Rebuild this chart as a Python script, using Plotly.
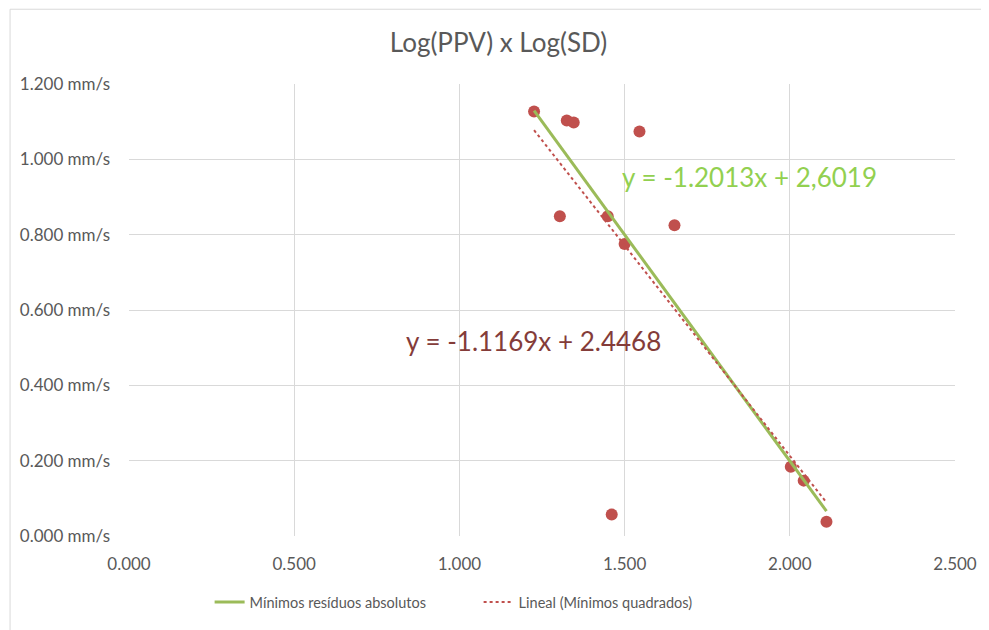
import plotly.graph_objects as go

log_sd = [1.226, 1.325, 1.346, 1.545, 1.304, 1.449, 1.500, 1.651, 1.461, 2.003, 2.042, 2.111]
log_ppv = [1.127, 1.103, 1.098, 1.074, 0.849, 0.849, 0.775, 0.825, 0.057, 0.184, 0.147, 0.038]

lad_slope, lad_icpt = -1.2013, 2.6019
ls_slope, ls_icpt = -1.1169, 2.4468

x_ticks = [0.0, 0.5, 1.0, 1.5, 2.0, 2.5]
x_ticklabels = ["0.000", "0.500", "1.000", "1.500", "2.000", "2.500"]
y_ticks = [0.0, 0.2, 0.4, 0.6, 0.8, 1.0, 1.2]
y_ticklabels = ["0.000 mm/s", "0.200 mm/s", "0.400 mm/s", "0.600 mm/s", "0.800 mm/s", "1.000 mm/s", "1.200 mm/s"]

xmin, xmax = min(log_sd), max(log_sd)
line_x = [xmin, xmax]

FONT = "Lato, 'Open Sans', sans-serif"
GREY = "#595959"

fig = go.Figure()
fig.add_trace(go.Scatter(
    x=log_sd, y=log_ppv, mode="markers",
    marker=dict(color="#C0504D", size=12),
    showlegend=False, hoverinfo="x+y"))
fig.add_trace(go.Scatter(
    x=line_x, y=[lad_slope * v + lad_icpt for v in line_x], mode="lines",
    line=dict(color="#9BBB59", width=3),
    name="Mínimos resíduos absolutos"))
fig.add_trace(go.Scatter(
    x=line_x, y=[ls_slope * v + ls_icpt for v in line_x], mode="lines",
    line=dict(color="#C0504D", width=2, dash="dot"),
    name="Lineal (Mínimos quadrados)"))

fig.add_annotation(x=1.485, y=0.952, xref="x", yref="y", text="y = -1.2013x + 2,6019",
                   showarrow=False, xanchor="left", yanchor="middle",
                   font=dict(family=FONT, size=26, color="#92D050"))
fig.add_annotation(x=0.831, y=0.518, xref="x", yref="y", text="y = -1.1169x + 2.4468",
                   showarrow=False, xanchor="left", yanchor="middle",
                   font=dict(family=FONT, size=26, color="#843C39"))

fig.add_shape(type="rect", xref="paper", yref="paper",
              x0=-0.144, x1=1.2, y0=-0.3, y1=1.1654,
              line=dict(color="#D9D9D9", width=1), fillcolor="rgba(0,0,0,0)", layer="below")

fig.update_layout(
    width=981, height=622,
    margin=dict(l=120, r=31, t=76, b=93),
    paper_bgcolor="white", plot_bgcolor="white",
    title=dict(text="Log(PPV) x Log(SD)", x=0.5, xanchor="center", y=0.944, yanchor="middle",
               font=dict(family=FONT, size=26, color=GREY)),
    font=dict(family=FONT, size=15, color=GREY),
    legend=dict(orientation="h", x=0.0976, xanchor="left", y=-0.146, yanchor="middle",
                entrywidth=224, entrywidthmode="pixels",
                font=dict(family=FONT, size=14.5, color=GREY)),
    xaxis=dict(range=[0, 2.5], tickvals=x_ticks, ticktext=x_ticklabels,
               showgrid=True, gridcolor="#D9D9D9", gridwidth=1, zeroline=False,
               showline=False, ticks="", ticklabelstandoff=16, tickfont=dict(size=17, color=GREY)),
    yaxis=dict(range=[0, 1.2], tickvals=y_ticks, ticktext=y_ticklabels,
               showgrid=True, gridcolor="#D9D9D9", gridwidth=1, zeroline=False,
               showline=False, ticks="", ticklabelstandoff=18, tickfont=dict(size=17, color=GREY)),
)

fig.write_html("out.html")
